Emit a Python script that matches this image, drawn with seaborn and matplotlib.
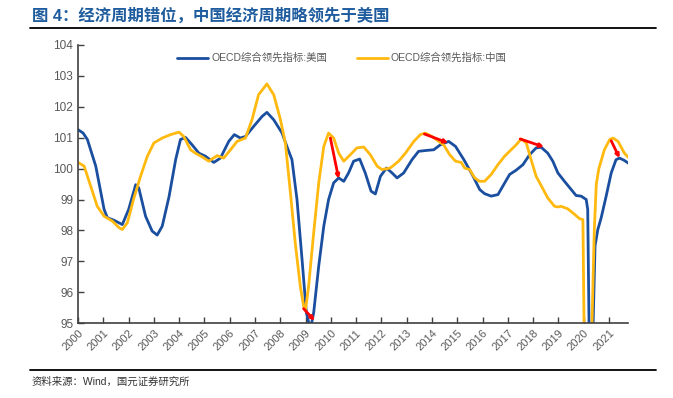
import matplotlib
matplotlib.use("Agg")
import matplotlib.pyplot as plt
from matplotlib.lines import Line2D
import seaborn as sns
import pandas as pd

# OECD composite leading indicator, USA (decimal year, value)
us_t = [2000.0, 2000.2, 2000.37, 2000.7, 2001.03, 2001.16, 2001.42, 2001.75, 2002.0, 2002.28, 2002.4,
        2002.67, 2002.93, 2003.13, 2003.33, 2003.6, 2003.86, 2004.05, 2004.25, 2004.51, 2004.78,
        2005.04, 2005.37, 2005.63, 2005.96, 2006.18, 2006.42, 2006.62, 2006.95, 2007.28, 2007.47,
        2007.74, 2008.07, 2008.26, 2008.46, 2008.66, 2008.86, 2009.03, 2009.19, 2009.32, 2009.52,
        2009.72, 2009.91, 2010.11, 2010.31, 2010.51, 2010.7, 2010.9, 2011.14, 2011.36, 2011.59,
        2011.76, 2011.96, 2012.2, 2012.42, 2012.62, 2012.88, 2013.21, 2013.47, 2013.8, 2014.07,
        2014.33, 2014.66, 2014.93, 2015.26, 2015.59, 2015.89, 2016.08, 2016.34, 2016.61, 2016.8,
        2017.07, 2017.33, 2017.6, 2017.86, 2018.12, 2018.32, 2018.58, 2018.78, 2018.98, 2019.24,
        2019.51, 2019.7, 2019.9, 2020.1, 2020.16, 2020.24, 2020.3, 2020.36, 2020.45, 2020.56,
        2020.69, 2020.89, 2021.09, 2021.28, 2021.42, 2021.6, 2021.85]
us_v = [101.26, 101.15, 100.94, 100.08, 98.68, 98.41, 98.33, 98.19, 98.68, 99.48, 99.38,
        98.46, 97.98, 97.85, 98.14, 99.1, 100.29, 100.94, 101.01, 100.77, 100.5,
        100.4, 100.2, 100.34, 100.88, 101.1, 100.99, 101.04, 101.37, 101.69, 101.82,
        101.58, 101.15, 100.72, 100.29, 99.0, 97.06, 95.34, 94.8, 95.34, 96.85,
        98.14, 99.0, 99.54, 99.7, 99.59, 99.86, 100.24, 100.31, 99.86, 99.27,
        99.18, 99.75, 100.02, 99.86, 99.7, 99.86, 100.29, 100.56, 100.59, 100.61,
        100.77, 100.88, 100.72, 100.29, 99.81, 99.32, 99.19, 99.11, 99.16, 99.43,
        99.81, 99.95, 100.13, 100.45, 100.67, 100.69, 100.5, 100.24, 99.86, 99.59,
        99.32, 99.13, 99.11, 99.0, 98.68, 93.0, 92.0, 94.5, 97.5, 98.03,
        98.4, 99.11, 99.86, 100.29, 100.34, 100.27, 100.13]

# OECD composite leading indicator, China
cn_t = [2000.0, 2000.24, 2000.5, 2000.76, 2001.03, 2001.36, 2001.62, 2001.75, 2001.95, 2002.21,
        2002.47, 2002.74, 2003.0, 2003.33, 2003.66, 2003.99, 2004.18, 2004.45, 2004.64, 2004.91,
        2005.17, 2005.5, 2005.76, 2006.03, 2006.29, 2006.62, 2006.88, 2007.14, 2007.47, 2007.74,
        2008.0, 2008.2, 2008.4, 2008.59, 2008.79, 2008.92, 2009.0, 2009.12, 2009.32, 2009.52,
        2009.72, 2009.91, 2010.11, 2010.31, 2010.51, 2010.77, 2011.03, 2011.3, 2011.56, 2011.83,
        2012.02, 2012.35, 2012.68, 2012.95, 2013.28, 2013.54, 2013.74, 2014.0, 2014.27, 2014.46,
        2014.7, 2014.93, 2015.16, 2015.29, 2015.49, 2015.69, 2015.88, 2016.08, 2016.34, 2016.61,
        2016.87, 2017.13, 2017.33, 2017.53, 2017.73, 2017.92, 2018.12, 2018.32, 2018.58, 2018.85,
        2018.98, 2019.11, 2019.37, 2019.64, 2019.84, 2019.97, 2020.04, 2020.15, 2020.3, 2020.42,
        2020.5, 2020.6, 2020.82, 2021.03, 2021.16, 2021.36, 2021.61, 2021.85]
cn_v = [100.2, 100.08, 99.43, 98.78, 98.46, 98.3, 98.09, 98.03, 98.25, 99.05,
        99.75, 100.4, 100.83, 100.99, 101.1, 101.18, 101.04, 100.61, 100.5, 100.38,
        100.24, 100.42, 100.34, 100.61, 100.88, 100.99, 101.58, 102.39, 102.74, 102.39,
        101.6, 100.83, 99.22, 97.6, 96.2, 95.56, 95.45, 96.2, 97.92, 99.54,
        100.72, 101.15, 100.99, 100.5, 100.24, 100.45, 100.67, 100.7, 100.45, 100.08,
        99.97, 100.02, 100.24, 100.5, 100.88, 101.1, 101.15, 101.04, 100.88, 100.77,
        100.45, 100.24, 100.2, 100.02, 99.97, 99.7, 99.59, 99.59, 99.81, 100.13,
        100.4, 100.61, 100.77, 100.96, 100.83, 100.29, 99.75, 99.45, 99.05, 98.78,
        98.76, 98.78, 98.7, 98.52, 98.38, 98.35, 93.0, 91.0, 94.0, 98.0,
        99.5, 100.0, 100.61, 100.94, 100.99, 100.88, 100.5, 100.29]

# lead arrows: China turning point -> US turning point
lead_cn_t = [2008.92, 2009.98, 2013.7, 2017.49, 2021.09]
lead_cn_v = [95.47, 100.99, 101.12, 100.96, 100.9]
lead_us_t = [2009.36, 2010.31, 2014.64, 2018.43, 2021.42]
lead_us_v = [95.08, 99.67, 100.83, 100.7, 100.34]

years = list(range(2000, 2022))
us_name = "OECD综合领先指标:美国"
cn_name = "OECD综合领先指标:中国"

df = pd.concat([
    pd.DataFrame({"t": us_t, "v": us_v, "series": us_name}),
    pd.DataFrame({"t": cn_t, "v": cn_v, "series": cn_name}),
])

sns.set_style("ticks")
plt.rcParams["font.family"] = ["Liberation Sans", "Noto Sans CJK SC", "DejaVu Sans"]

fig = plt.figure(figsize=(6.73, 3.98), dpi=100)
ax = fig.add_axes([0.116, 0.188, 0.817, 0.699])

sns.lineplot(data=df, x="t", y="v", hue="series", ax=ax,
             palette={us_name: "#1a4e9f", cn_name: "#ffb90f"}, linewidth=2.0)

for x0, y0, x1, y1 in zip(lead_cn_t, lead_cn_v, lead_us_t, lead_us_v):
    ax.annotate("", xy=(x1, y1), xytext=(x0, y0),
                arrowprops=dict(arrowstyle="-|>,head_length=0.2,head_width=0.1",
                                color="#ff0000", lw=2.0, shrinkA=0, shrinkB=0))

ax.set_xlim(2000, 2021.75)
ax.set_ylim(95, 104)
ax.set_xticks(years)
ax.set_xticklabels([str(y) for y in years], rotation=45, ha="right",
                   rotation_mode="anchor", fontsize=8, color="#595959")
ax.set_yticks(range(95, 105))
ax.tick_params(axis="y", labelsize=8.5, colors="#595959")
ax.tick_params(direction="in", length=4, width=1, color="#404040")
ax.set_xlabel("")
ax.set_ylabel("")
for side in ["top", "right"]:
    ax.spines[side].set_visible(False)
for side in ["left", "bottom"]:
    ax.spines[side].set_color("#404040")
    ax.spines[side].set_linewidth(1.2)

leg = ax.legend(loc="center", bbox_to_anchor=(0.48, 0.953), ncol=2, frameon=False,
                fontsize=7.5, handlelength=3.0, columnspacing=2.8, handletextpad=0.3)
for txt in leg.get_texts():
    txt.set_color("#595959")

fig.text(0.047, 0.962, "图 4：经济周期错位，中国经济周期略领先于美国",
         fontsize=11.8, fontweight="bold", color="#1f5c9e", va="center", ha="left")
fig.add_artist(Line2D([0.045, 0.975], [0.93, 0.93], color="black", lw=1.3))
fig.add_artist(Line2D([0.045, 0.975], [0.07, 0.07], color="black", lw=1.3))
fig.text(0.047, 0.04, "资料来源：Wind，国元证券研究所", fontsize=7.5,
         color="#333333", va="center", ha="left")

fig.savefig("out.png", dpi=100)
